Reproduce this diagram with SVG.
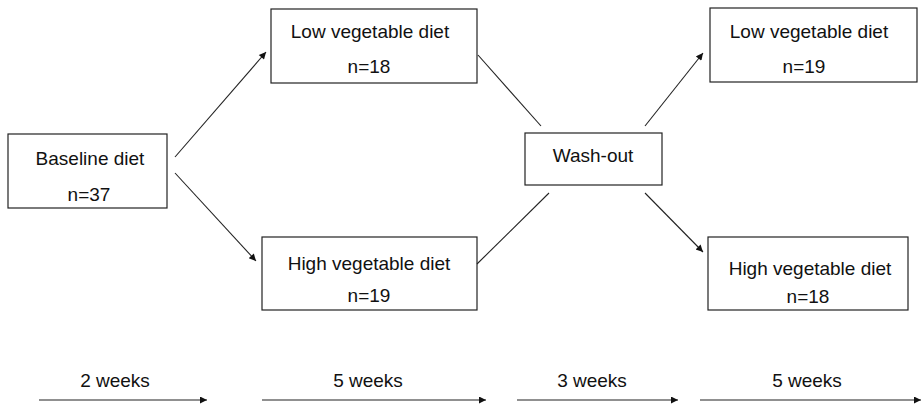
<svg xmlns="http://www.w3.org/2000/svg" width="922" height="405" viewBox="0 0 922 405">
<style>
.box{fill:#fff;stroke:#222;stroke-width:1.2}
.t{font-family:"Liberation Sans",Arial,sans-serif;font-size:19px;fill:#111;text-anchor:middle}
.c{stroke:#222;stroke-width:1.1;fill:none}
</style>
<defs>
<marker id="ah" viewBox="0 0 10 10" refX="10" refY="5" markerWidth="9" markerHeight="7" markerUnits="userSpaceOnUse" orient="auto">
<path d="M0,0 L10,5 L0,10 z" fill="#111"/>
</marker>
</defs>
<rect width="922" height="405" fill="#fff"/>
<g id="baseline">
<rect class="box" x="8" y="134" width="159" height="74"/>
<text class="t" x="90" y="165">Baseline diet</text>
<text class="t" x="89" y="201">n=37</text>
</g>
<g id="low1">
<rect class="box" x="271" y="9" width="206" height="74"/>
<text class="t" x="370" y="38">Low vegetable diet</text>
<text class="t" x="369" y="73">n=18</text>
</g>
<g id="high1">
<rect class="box" x="262" y="237" width="215" height="73"/>
<text class="t" x="369" y="270">High vegetable diet</text>
<text class="t" x="369" y="302">n=19</text>
</g>
<g id="washout">
<rect class="box" x="525" y="133" width="137" height="52"/>
<text class="t" x="593" y="162">Wash-out</text>
</g>
<g id="low2">
<rect class="box" x="710" y="8" width="207" height="74"/>
<text class="t" x="809" y="38">Low vegetable diet</text>
<text class="t" x="804" y="73">n=19</text>
</g>
<g id="high2">
<rect class="box" x="708" y="237" width="200" height="73"/>
<text class="t" x="810" y="275">High vegetable diet</text>
<text class="t" x="808" y="303">n=18</text>
</g>
<g id="connectors">
<line class="c" x1="175" y1="157" x2="266" y2="52" marker-end="url(#ah)"/>
<line class="c" x1="175" y1="173" x2="256" y2="261" marker-end="url(#ah)"/>
<line class="c" x1="478" y1="55" x2="541" y2="126"/>
<line class="c" x1="549" y1="193" x2="477" y2="264"/>
<line class="c" x1="645" y1="126" x2="703" y2="53" marker-end="url(#ah)"/>
<line class="c" x1="645" y1="193" x2="703" y2="252" marker-end="url(#ah)"/>
</g>
<g id="timeline">
<line class="c" x1="39" y1="400" x2="207" y2="400" marker-end="url(#ah)"/>
<line class="c" x1="262" y1="400" x2="486" y2="400" marker-end="url(#ah)"/>
<line class="c" x1="517" y1="400" x2="678" y2="400" marker-end="url(#ah)"/>
<line class="c" x1="700" y1="400" x2="921" y2="400" marker-end="url(#ah)"/>
<text class="t" x="115" y="387">2 weeks</text>
<text class="t" x="368" y="387">5 weeks</text>
<text class="t" x="592" y="387">3 weeks</text>
<text class="t" x="807" y="387">5 weeks</text>
</g>
</svg>
